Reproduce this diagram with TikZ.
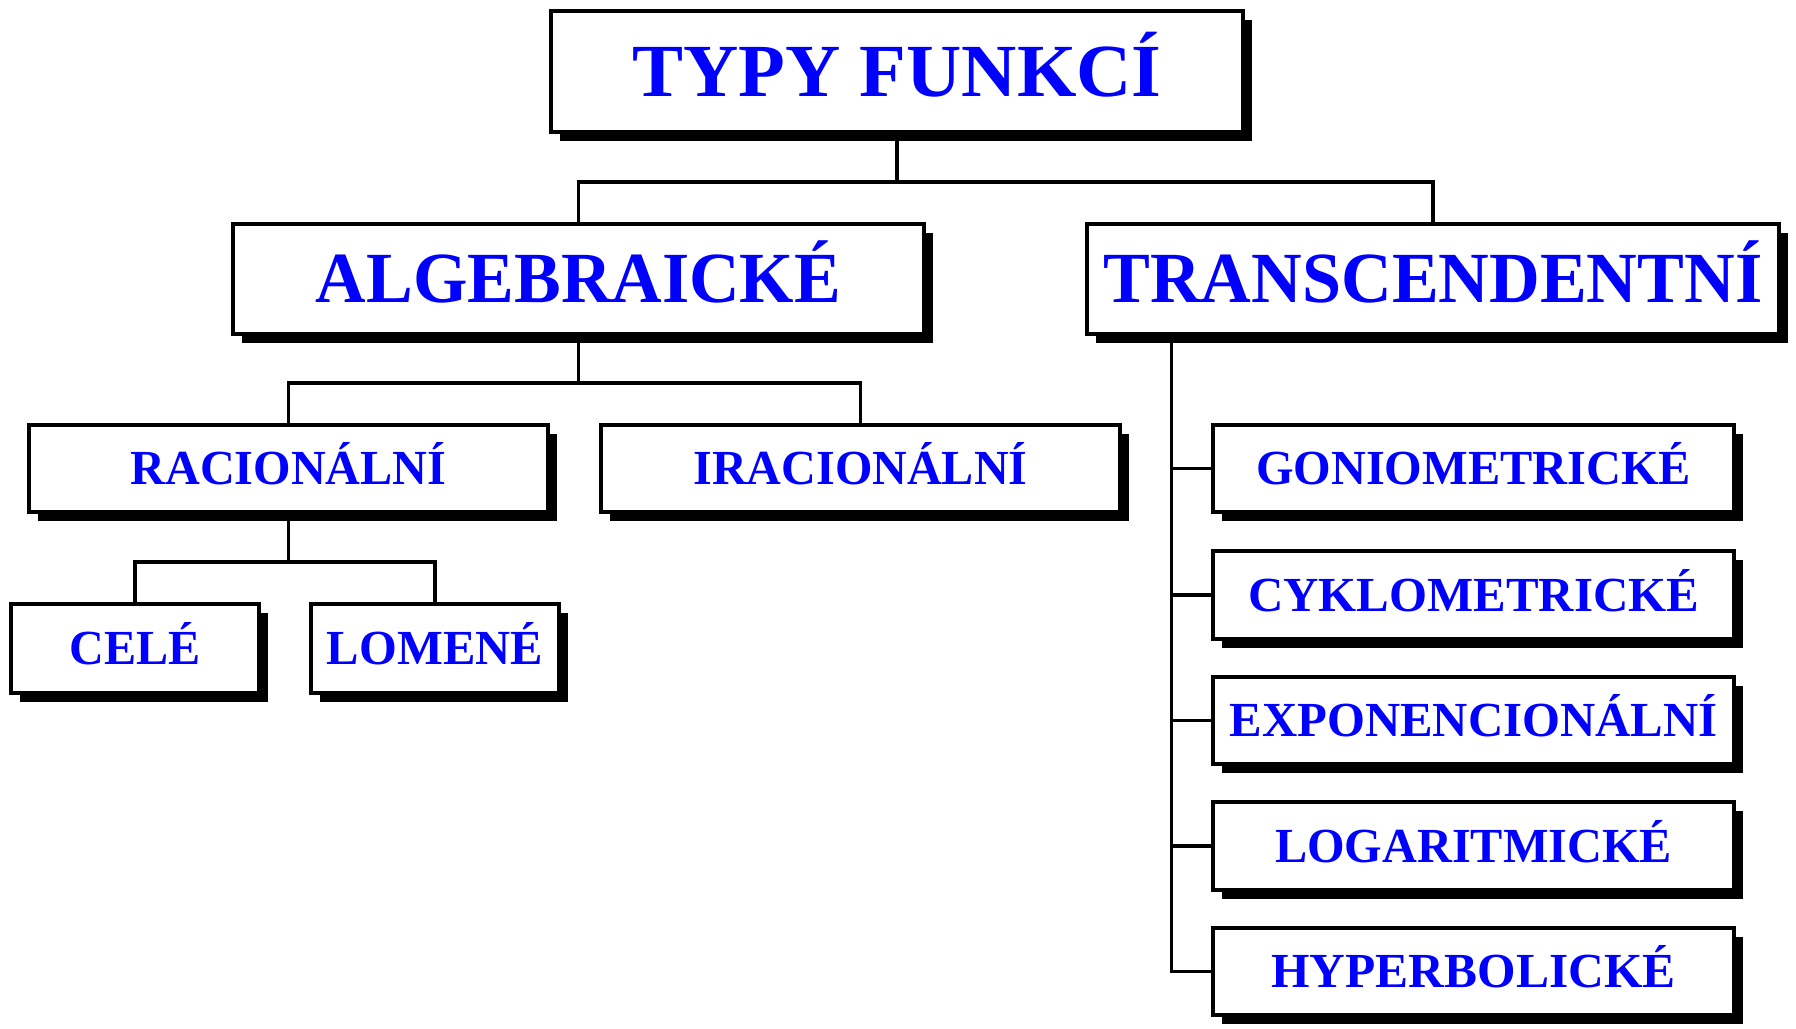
\documentclass[tikz,border=0pt]{standalone}
\usepackage{fontspec}
\setmainfont{Liberation Serif}
\usepackage{graphicx}
\usetikzlibrary{shadows,calc}
\definecolor{txtblue}{RGB}{0,0,255}
\newcommand\fitw[2]{\resizebox{#1}{\height}{#2}}
\begin{document}
\begin{tikzpicture}[x=1pt,y=-1pt,
  box/.style={draw=black, line width=3.8pt, fill=white, rectangle, inner sep=0pt,
    text=txtblue, text depth=0pt,
    drop shadow={shadow xshift=9pt, shadow yshift=-9pt, fill=black, opacity=1}},
  lvA/.style={box, minimum width=692pt, minimum height=121.5pt,
    font=\bfseries\fontsize{75}{80}\selectfont, text height=49.6pt},
  lvB/.style={box, minimum width=691.5pt, minimum height=110.5pt,
    font=\bfseries\fontsize{72}{76}\selectfont, text height=47.7pt},
  lvC/.style={box, minimum width=519.5pt, minimum height=87.5pt,
    font=\bfseries\fontsize{49}{52}\selectfont, text height=32.4pt},
  lvD/.style={lvC, minimum width=248.5pt, minimum height=89.5pt},
  lvE/.style={lvC, minimum width=521.5pt},
  conn/.style={draw=black, line width=3.5pt, line join=miter}]
\useasboundingbox (0,0) rectangle (1796,1028);

% nodes
\node[lvA] (top) at (897,71.5) {\fitw{529pt}{TYPY FUNKCÍ}};
\node[lvB] (alg) at (578.5,279) {\fitw{525pt}{ALGEBRAICKÉ}};
\node[lvB] (tra) at (1433,279) {\fitw{659pt}{TRANSCENDENTNÍ}};
\node[lvC] (rac) at (288.5,468.5) {\fitw{316pt}{RACIONÁLNÍ}};
\node[lvC] (irac) at (860.5,468.5) {\fitw{334pt}{IRACIONÁLNÍ}};
\node[lvD] (cel) at (135,648.5) {\fitw{131pt}{CELÉ}};
\node[lvD] (lom) at (435,648.5) {\fitw{216pt}{LOMENÉ}};
\node[lvE] (gon) at (1473.5,468.5) {\fitw{435pt}{GONIOMETRICKÉ}};
\node[lvE] (cyk) at (1473.5,595) {\fitw{451pt}{CYKLOMETRICKÉ}};
\node[lvE] (exp) at (1473.5,720.5) {\fitw{488pt}{EXPONENCIONÁLNÍ}};
\node[lvE] (log) at (1473.5,846) {\fitw{397pt}{LOGARITMICKÉ}};
\node[lvE] (hyp) at (1473.5,971.5) {\fitw{404pt}{HYPERBOLICKÉ}};

% connectors
\coordinate (j1) at ($(top.south)+(0,48)$);
\draw[conn] (top.south) -- (j1) -| (alg.north);
\draw[conn] (j1) -| (tra.north);

\coordinate (j2) at ($(alg.south)+(0,47)$);
\draw[conn] (alg.south) -- (j2) -| (rac.north);
\draw[conn] (j2) -| (irac.north);

\coordinate (j3) at ($(rac.south)+(0,48)$);
\draw[conn] (rac.south) -- (j3) -| (cel.north);
\draw[conn] (j3) -| (lom.north);

\coordinate (t0) at ($(tra.south west)+(86,0)$);
\draw[conn] (t0) |- (hyp.west);
\draw[conn] (t0 |- gon.west) -- (gon.west);
\draw[conn] (t0 |- cyk.west) -- (cyk.west);
\draw[conn] (t0 |- exp.west) -- (exp.west);
\draw[conn] (t0 |- log.west) -- (log.west);
\end{tikzpicture}
\end{document}
